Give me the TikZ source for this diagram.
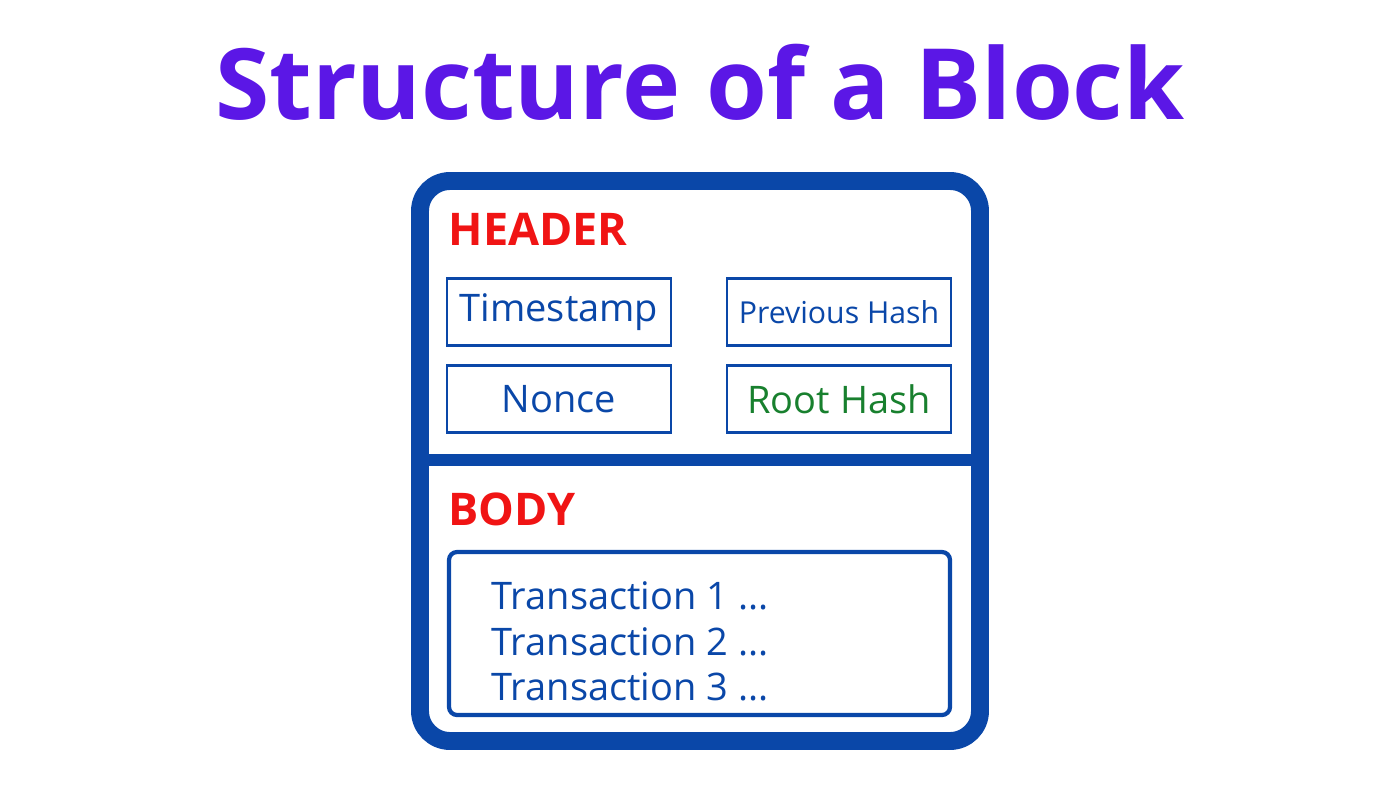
\documentclass[tikz,border=0pt]{standalone}
\usepackage{fontspec}
\setmainfont{Open Sans}
\definecolor{blockblue}{HTML}{0A47A8}
\definecolor{titlepurple}{HTML}{5B17E6}
\definecolor{headred}{HTML}{F01414}
\definecolor{rootgreen}{HTML}{18802E}
\tikzset{
  field/.style={draw=blockblue,line width=0.6pt,minimum width=2.24cm,minimum height=0.67cm,inner sep=0pt,text=blockblue,font=\fontsize{10.8}{13}\selectfont},
  part/.style={anchor=west,text=headred,font=\fontsize{12.8}{15}\selectfont\bfseries,inner sep=0pt},
  tx/.style={anchor=west,text=blockblue,font=\fontsize{10.8}{13}\selectfont,inner sep=0pt}
}
\begin{document}
\begin{tikzpicture}[x=0.01cm,y=-0.01cm]
  \useasboundingbox (0,0) rectangle (1400,788);

  % Title
  \node[text=titlepurple,font=\fontsize{28}{32}\selectfont\bfseries] (title) at (700,82) {Structure of a Block};

  % Block frame
  \draw[blockblue,line width=5.1pt,rounded corners=0.3cm] (420,181) rectangle (980,741);
  \coordinate (divl) at (420,460);
  \coordinate (divr) at (980,460);
  \draw[blockblue,line width=3.4pt] (divl) -- (divr);

  % Header
  \node[part] (header) at (448,229) {HEADER};
  \node[field] (time) at (559,312) {Timestamp};
  \node[field,font=\fontsize{8.6}{10}\selectfont] (prev) at (839,312) {Previous Hash};
  \node[field] (nonce) at (559,399) {Nonce};
  \node[field,text=rootgreen] (root) at (839,399) {Root Hash};

  % Body
  \node[part] (body) at (448,509) {BODY};
  \draw[blockblue,line width=1.2pt,rounded corners=0.08cm] (449,552) rectangle (950,715);
  \node[tx] (tx1) at (491,596) {Transaction 1 ...};
  \node[tx] (tx2) at (491,642) {Transaction 2 ...};
  \node[tx] (tx3) at (491,687) {Transaction 3 ...};
\end{tikzpicture}
\end{document}
